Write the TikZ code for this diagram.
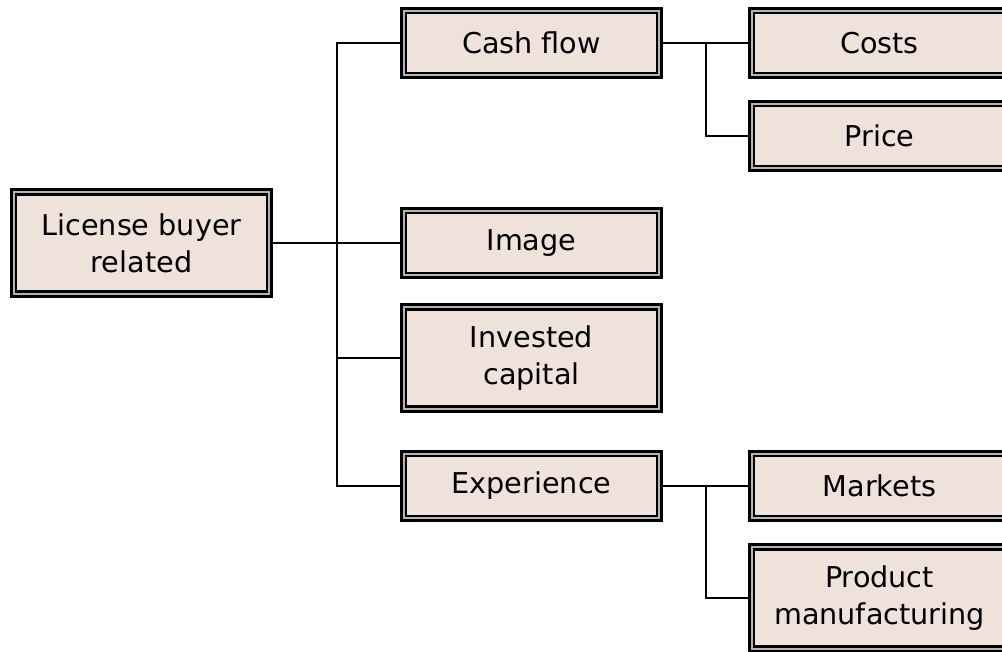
\documentclass[tikz,border=0pt]{standalone}
\usepackage{fontspec}
\setmainfont{DejaVu Sans}
\usepackage{xcolor}
\usetikzlibrary{calc}
\definecolor{boxfill}{HTML}{EFE2DA}
\definecolor{rim}{HTML}{B4B4B4}
\tikzset{
  conn/.style={draw=black, line width=0.8pt},
  card/.style={draw=black, line width=2.4pt, fill=boxfill, align=center,
    minimum width=195pt, minimum height=52pt, inner sep=0pt,
    font=\fontsize{21.5}{27.5}\selectfont,
    path picture={
      \draw[rim, line width=1.4pt]
        ([shift={(1.9pt,1.9pt)}]path picture bounding box.south west) rectangle
        ([shift={(-1.9pt,-1.9pt)}]path picture bounding box.north east);
      \draw[black, line width=1.8pt]
        ([shift={(3.5pt,3.5pt)}]path picture bounding box.south west) rectangle
        ([shift={(-3.5pt,-3.5pt)}]path picture bounding box.north east);
    }},
  tallcard/.style={card, minimum height=80pt}
}

\begin{document}
\begin{tikzpicture}[x=0.75pt, y=-0.75pt]
  \useasboundingbox (0,0) rectangle (1002,651);

  \coordinate (jA) at (337,0);   % first junction column
  \coordinate (jB) at (706,0);   % second junction column

  \node[tallcard] (lic)   at (141.5,243) {License buyer\\related};
  \node[card]     (cash)  at (531.5,43)  {Cash flow};
  \node[card]     (img)   at (531.5,243) {Image};
  \node[tallcard] (inv)   at (531.5,358) {Invested\\capital};
  \node[card]     (exp)   at (531.5,486) {Experience};
  \node[card]     (cost)  at (879.5,43)  {Costs};
  \node[card]     (price) at (879.5,136) {Price};
  \node[card]     (mkt)   at (879.5,486) {Markets};
  \node[tallcard] (prod)  at (879.5,598) {Product\\manufacturing};

  \draw[conn] (lic.east) -- (lic.east -| jA);
  \draw[conn] (cash.west) -| (jA |- exp.west) -- (exp.west);
  \draw[conn] (img.west -| jA) -- (img.west);
  \draw[conn] (inv.west -| jA) -- (inv.west);

  \draw[conn] (cash.east) -- (cost.west);
  \draw[conn] (cash.east -| jB) |- (price.west);
  \draw[conn] (exp.east) -- (mkt.west);
  \draw[conn] (exp.east -| jB) |- (prod.west);
\end{tikzpicture}
\end{document}
